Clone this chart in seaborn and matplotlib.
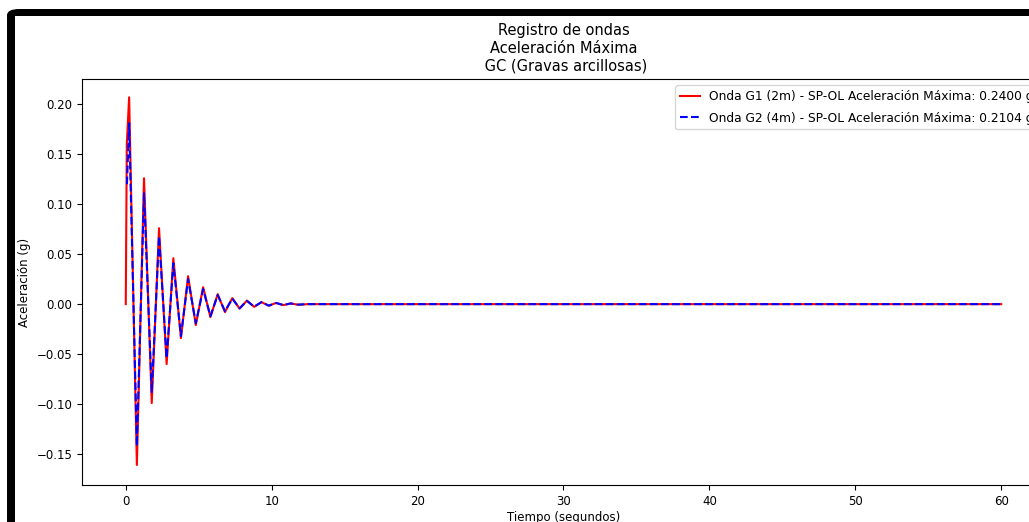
import matplotlib.pyplot as plt
import seaborn as sns
from matplotlib.patches import FancyBboxPatch, Rectangle

t_g1 = [0.0, 0.07, 0.23, 0.76, 1.25, 1.78, 2.28, 2.80, 3.26, 3.78, 4.27, 4.80,
        5.30, 5.80, 6.30, 6.80, 7.30, 7.80, 8.30, 8.80, 9.30, 9.80, 10.30,
        10.80, 11.30, 11.80, 12.50, 60.0]
a_g1 = [0.0, 0.16, 0.207, -0.161, 0.126, -0.099, 0.076, -0.060, 0.046, -0.034,
        0.028, -0.021, 0.017, -0.013, 0.010, -0.008, 0.006, -0.0045, 0.0035,
        -0.0027, 0.002, -0.0016, 0.0012, -0.001, 0.0007, -0.0006, 0.0, 0.0]

t_g2 = [0.08, 0.23, 0.76, 1.25, 1.78, 2.28, 2.80, 3.26, 3.78, 4.27, 4.80,
        5.30, 5.80, 6.30, 6.80, 7.30, 7.80, 8.30, 8.80, 9.30, 9.80, 10.30,
        10.80, 11.30, 11.80, 12.50, 60.0]
a_g2 = [0.12, 0.181, -0.142, 0.111, -0.088, 0.068, -0.054, 0.041, -0.032,
        0.025, -0.019, 0.015, -0.012, 0.009, -0.007, 0.0055, -0.0042, 0.0033,
        -0.0025, 0.002, -0.0015, 0.0012, -0.0009, 0.0007, -0.0005, 0.0, 0.0]

label_g1 = 'Onda G1 (2m) - SP-OL Aceleración Máxima: 0.2400 g'
label_g2 = 'Onda G2 (4m) - SP-OL Aceleración Máxima: 0.2104 g'

W, H = 1029, 522
fig = plt.figure(figsize=(W / 100, H / 100), dpi=100)

# marco negro de la captura
fig.patches.append(FancyBboxPatch((7 / W, -0.2), 1.2, (H - 9) / H + 0.2,
                                  boxstyle='round,pad=0,rounding_size=0.012',
                                  transform=fig.transFigure, facecolor='black',
                                  edgecolor='none', zorder=-2))
fig.patches.append(Rectangle((15 / W, -0.2), 1.2, (H - 16) / H + 0.2,
                             transform=fig.transFigure, facecolor='white',
                             edgecolor='none', zorder=-1))

ax = fig.add_axes([82 / W, (H - 485) / H, (1045 - 82) / W, (485 - 79) / H])

sns.lineplot(x=t_g1, y=a_g1, color='red', linewidth=1.5, label=label_g1,
             ax=ax, sort=False, solid_joinstyle='round')
sns.lineplot(x=t_g2, y=a_g2, color='blue', linewidth=1.5, linestyle='--',
             label=label_g2, ax=ax, sort=False, dash_joinstyle='round')

ax.set_xlim(-3, 63)
ax.set_ylim(-0.181, 0.2253)
ax.set_xticks([0, 10, 20, 30, 40, 50, 60])
ax.set_yticks([-0.15, -0.10, -0.05, 0.00, 0.05, 0.10, 0.15, 0.20])
ax.tick_params(labelsize=8.5)
ax.set_title('Registro de ondas\nAceleración Máxima\n GC (Gravas arcillosas)',
             fontsize=10.5, pad=6, linespacing=1.25)
ax.set_xlabel('Tiempo (segundos)', fontsize=8.5, labelpad=2)
ax.set_ylabel('Aceleración (g)', fontsize=8.5)
ax.legend(loc='upper right', fontsize=8.8, handlelength=1.6, labelspacing=0.7)

fig.savefig('out.png', dpi=100)
